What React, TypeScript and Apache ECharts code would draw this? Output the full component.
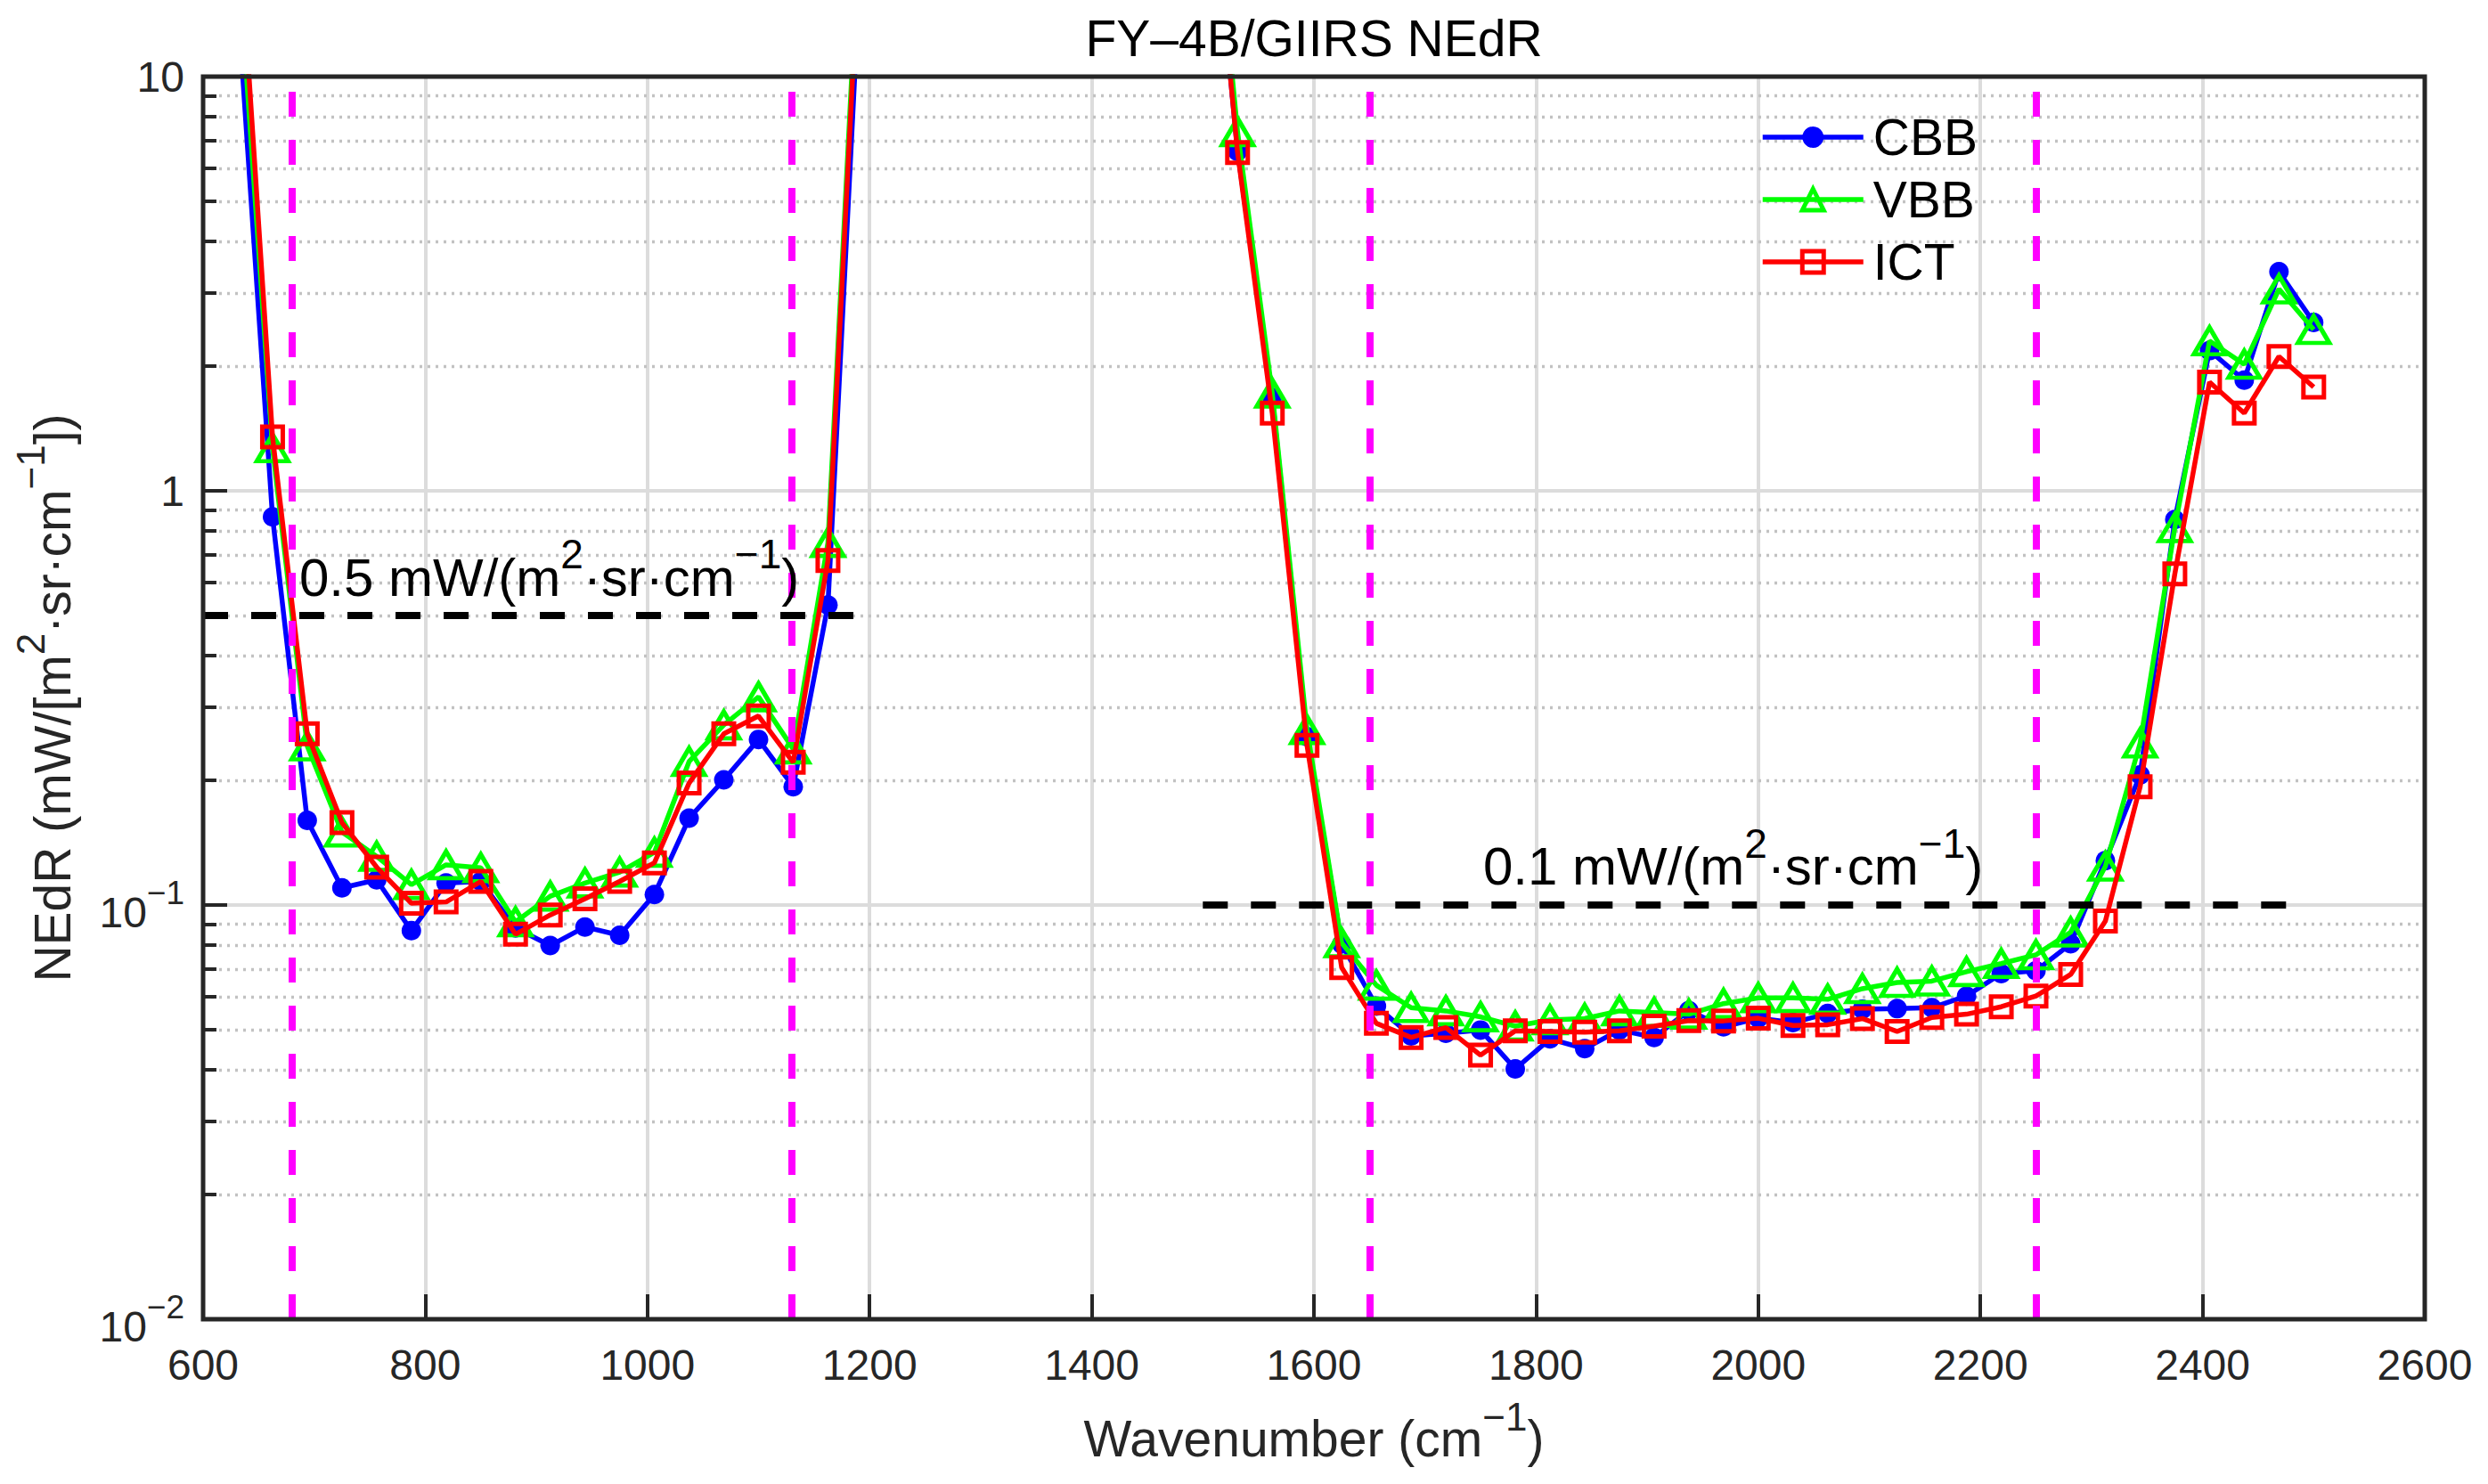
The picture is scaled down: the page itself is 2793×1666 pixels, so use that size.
import React, { useEffect, useRef } from "react";
import * as echarts from "echarts";

const FONT = '"Liberation Sans", Arial, Helvetica, sans-serif';

// ---- Data ----
const band1Wavenumber = [631.25, 662.5, 693.75, 725, 756.25, 787.5, 818.75, 850, 881.25, 912.5, 943.75, 975, 1006.25, 1037.5, 1068.75, 1100, 1131.25, 1162.5, 1193.75];
const cbbBand1 = [15, 0.865, 0.16, 0.11, 0.115, 0.0867, 0.113, 0.114, 0.088, 0.0798, 0.0885, 0.0845, 0.106, 0.162, 0.2005, 0.251, 0.193, 0.53, 24];
const vbbBand1 = [20, 1.27, 0.242, 0.15, 0.131, 0.112, 0.125, 0.123, 0.091, 0.105, 0.113, 0.12, 0.134, 0.222, 0.272, 0.318, 0.238, 0.75, 33];
const ictBand1 = [26, 1.35, 0.259, 0.158, 0.1234, 0.101, 0.1017, 0.114, 0.085, 0.0946, 0.1035, 0.114, 0.1264, 0.197, 0.259, 0.286, 0.221, 0.679, 30];

const band2Wavenumber = [1500, 1531.25, 1562.5, 1593.75, 1625, 1656.25, 1687.5, 1718.75, 1750, 1781.25, 1812.5, 1843.75, 1875, 1906.25, 1937.5, 1968.75, 2000, 2031.25, 2062.5, 2093.75, 2125, 2156.25, 2187.5, 2218.75, 2250, 2281.25, 2312.5, 2343.75, 2375, 2406.25, 2437.5, 2468.75, 2500];
const cbbBand2 = [50, 6.6, 1.68, 0.255, 0.0805, 0.057, 0.0483, 0.049, 0.0499, 0.0402, 0.0475, 0.045, 0.0499, 0.0479, 0.0556, 0.0508, 0.0533, 0.052, 0.0547, 0.056, 0.0562, 0.0565, 0.0603, 0.0683, 0.0694, 0.0806, 0.128, 0.206, 0.852, 2.18, 1.85, 3.38, 2.55];
const vbbBand2 = [55, 7.36, 1.72, 0.265, 0.081, 0.064, 0.0565, 0.0555, 0.0537, 0.051, 0.0528, 0.0532, 0.0555, 0.055, 0.0545, 0.0578, 0.0597, 0.0597, 0.0592, 0.0628, 0.065, 0.0655, 0.069, 0.0722, 0.0758, 0.086, 0.124, 0.246, 0.815, 2.3, 2.02, 3.07, 2.45];
const ictBand2 = [50, 6.56, 1.54, 0.243, 0.0706, 0.0518, 0.0479, 0.0506, 0.0434, 0.0497, 0.0495, 0.0493, 0.0497, 0.051, 0.0526, 0.0525, 0.0533, 0.0512, 0.0514, 0.0532, 0.0495, 0.0535, 0.0545, 0.0568, 0.0603, 0.068, 0.0915, 0.193, 0.63, 1.83, 1.54, 2.11, 1.78];

const seriesNames = ["CBB", "VBB", "ICT"];
const seriesColors = ["#0000ff", "#00ff00", "#ff0000"];

const bandEdges = [680, 1130, 1650, 2250];
const thresholdLevels = [0.5, 0.1];
const thresholdStart = [600, 1500];
const thresholdEnd = [1190, 2480];
const thresholdTexts = ["0.5", "0.1"];

const minorMantissas = [2, 3, 4, 5, 6, 7, 8, 9];
const decades = [0.01, 0.1, 1];

const TITLE = "FY\u20134B/GIIRS NEdR";

function pairs(wn: number[], v: number[]) {
  return wn.map((w, i) => [w, v[i]]);
}
function joinBands(b1: number[], b2: number[]) {
  return [...pairs(band1Wavenumber, b1), [1350, null], ...pairs(band2Wavenumber, b2)];
}

const AXIS_COLOR = "#262626";
const LINE_W = 5.5;

export default function App() {
  const ref = useRef<HTMLDivElement>(null);

  useEffect(() => {
    const chart = echarts.init(ref.current!, null, { renderer: "svg" });

    const minorValues: number[] = [];
    decades.forEach((d) => minorMantissas.forEach((m) => minorValues.push(+(m * d).toPrecision(3))));

    const annRich = {
      b: { fontSize: 60, fontFamily: FONT, color: "#000", verticalAlign: "bottom" },
      s: { fontSize: 46, fontFamily: FONT, color: "#000", verticalAlign: "bottom", padding: [0, 0, 33, 0] },
    };
    const nameRich = {
      b: { fontSize: 57, fontFamily: FONT, color: AXIS_COLOR, verticalAlign: "bottom" },
      s: { fontSize: 44, fontFamily: FONT, color: AXIS_COLOR, verticalAlign: "bottom", padding: [0, 0, 31, 0] },
    };

    const legendData = [
      { name: seriesNames[0], lineStyle: { width: LINE_W, color: seriesColors[0] }, itemStyle: { color: seriesColors[0], borderWidth: 0 } },
      { name: seriesNames[1], lineStyle: { width: LINE_W, color: seriesColors[1] }, itemStyle: { color: "rgba(0,0,0,0)", borderColor: seriesColors[1], borderWidth: 5 } },
      { name: seriesNames[2], lineStyle: { width: LINE_W, color: seriesColors[2] }, itemStyle: { color: "rgba(0,0,0,0)", borderColor: seriesColors[2], borderWidth: 5 } },
    ];

    const option: any = {
      animation: false,
      backgroundColor: "#ffffff",
      grid: { left: 228, right: 71, top: 86, bottom: 185, show: false, outerBoundsMode: "none", containLabel: false },
      legend: {
        orient: "vertical",
        left: 1976,
        top: 125.5,
        padding: 0,
        itemWidth: 113,
        itemHeight: 30,
        itemGap: 13,
        data: legendData,
        selectedMode: false,
        lineStyle: { width: LINE_W },
        textStyle: { fontSize: 57, fontFamily: FONT, color: "#000", lineHeight: 57, padding: [0, 0, 0, 6] },
      },
      xAxis: {
        type: "value",
        min: 600,
        max: 2600,
        interval: 200,
        name: "{b|Wavenumber (cm}{s|\u22121}{b|)}",
        nameLocation: "middle",
        nameGap: 87,
        nameTextStyle: { rich: nameRich },
        axisLine: { show: false },
        axisTick: { show: true, inside: true, length: 28, lineStyle: { width: 4, color: AXIS_COLOR } },
        axisLabel: {
          fontSize: 48,
          fontFamily: FONT,
          color: AXIS_COLOR,
          margin: 27,
          formatter: (v: number) => String(Math.round(v)),
        },
        splitLine: { show: true, showMinLine: false, showMaxLine: false, lineStyle: { color: "#dcdcdc", width: 4 } },
      },
      yAxis: {
        type: "log",
        logBase: 10,
        min: 0.01,
        max: 10,
        name: "{b|NEdR (mW/[m}{s|2}{b|\u00b7sr\u00b7cm}{s|\u22121}{b|])}",
        nameLocation: "middle",
        nameGap: 141,
        nameRotate: 90,
        nameTextStyle: { rich: nameRich },
        axisLine: { show: false },
        axisTick: { show: true, inside: true, length: 27, lineStyle: { width: 4, color: AXIS_COLOR } },
        axisLabel: {
          margin: 21,
          fontSize: 48,
          fontFamily: FONT,
          color: AXIS_COLOR,
          formatter: (v: number) => {
            const e = Math.round(Math.log10(v));
            if (e === 1) return "{b|10}";
            if (e === 0) return "{b|1}";
            return "{b|10}{s|\u2212" + -e + "}";
          },
          rich: {
            b: { fontSize: 48, fontFamily: FONT, color: AXIS_COLOR, verticalAlign: "bottom" },
            s: { fontSize: 37, fontFamily: FONT, color: AXIS_COLOR, verticalAlign: "bottom", padding: [0, 0, 27, 0] },
          },
        },
        splitLine: { show: true, showMinLine: false, showMaxLine: false, lineStyle: { color: "#dcdcdc", width: 4 } },
      },
      series: [
        {
          name: "grid-decor",
          type: "line",
          data: [],
          silent: true,
          z: 1,
          markLine: {
            silent: true,
            z: 1,
            symbol: "none",
            label: { show: false },
            emphasis: { disabled: true },
            data: [
              ...minorValues.map((v) => ({ yAxis: v, lineStyle: { type: [3, 6], color: "#c2c2c2", width: 3.3 } })),
              ...minorValues.map((v) => [
                { coord: [600, v], lineStyle: { type: "solid", color: AXIS_COLOR, width: 4 } },
                { coord: [612, v] },
              ]),
            ],
          },
        },
        {
          name: "CBB",
          type: "line",
          data: joinBands(cbbBand1, cbbBand2),
          symbol: "circle",
          symbolSize: 22,
          clip: true,
          z: 3,
          lineStyle: { color: seriesColors[0], width: LINE_W },
          itemStyle: { color: seriesColors[0], borderWidth: 0 },
          emphasis: { disabled: true },
        },
        {
          name: "VBB",
          type: "line",
          data: joinBands(vbbBand1, vbbBand2),
          symbol: "triangle",
          symbolSize: [35, 30],
          clip: true,
          z: 4,
          lineStyle: { color: seriesColors[1], width: LINE_W },
          itemStyle: { color: "rgba(0,0,0,0)", borderColor: seriesColors[1], borderWidth: 5 },
          emphasis: { disabled: true },
        },
        {
          name: "ICT",
          type: "line",
          data: joinBands(ictBand1, ictBand2),
          symbol: "rect",
          symbolSize: 23,
          clip: true,
          z: 5,
          lineStyle: { color: seriesColors[2], width: LINE_W },
          itemStyle: { color: "rgba(0,0,0,0)", borderColor: seriesColors[2], borderWidth: 5 },
          emphasis: { disabled: true },
        },
        {
          name: "guides",
          type: "line",
          data: [],
          silent: true,
          z: 8,
          markLine: {
            silent: true,
            z: 8,
            symbol: "none",
            label: { show: false },
            emphasis: { disabled: true },
            data: [
              ...bandEdges.map((x) => ({ xAxis: x, lineStyle: { type: [28, 26], color: "#ff00ff", width: 8 } })),
              ...thresholdLevels.map((lv, i) => [
                { coord: [thresholdStart[i], lv], lineStyle: { type: [28, 26], color: "#000000", width: 8 } },
                { coord: [thresholdEnd[i], lv] },
              ]),
            ],
          },
        },
      ],
      graphic: [
        {
          type: "text",
          x: 1475,
          y: 71.5,
          z: 100,
          style: {
            text: TITLE,
            fontSize: 57,
            fontFamily: FONT,
            fill: "#000",
            textAlign: "center",
            textVerticalAlign: "bottom",
            align: "center",
            verticalAlign: "bottom",
          },
        },
        {
          type: "text",
          x: 336,
          y: 678,
          z: 100,
          style: {
            text: "{b|" + thresholdTexts[0] + " mW/(m}{s|2}{b|\u00b7sr\u00b7cm}{s|\u22121}{b|)}",
            rich: annRich,
            textAlign: "left",
            textVerticalAlign: "bottom",
            align: "left",
            verticalAlign: "bottom",
          },
        },
        {
          type: "text",
          x: 1665,
          y: 1002.5,
          z: 100,
          style: {
            text: "{b|" + thresholdTexts[1] + " mW/(m}{s|2}{b|\u00b7sr\u00b7cm}{s|\u22121}{b|)}",
            rich: annRich,
            textAlign: "left",
            textVerticalAlign: "bottom",
            align: "left",
            verticalAlign: "bottom",
          },
        },
        {
          type: "rect",
          z: 100,
          shape: { x: 228, y: 86, width: 2494, height: 1395 },
          style: { fill: "none", stroke: AXIS_COLOR, lineWidth: 5 },
        },
      ],
    };

    chart.setOption(option);
    return () => chart.dispose();
  }, []);

  return (
    <div
      ref={ref}
      style={{ position: "fixed", left: 0, top: 0, width: "2793px", height: "1666px", background: "#fff" }}
    />
  );
}
